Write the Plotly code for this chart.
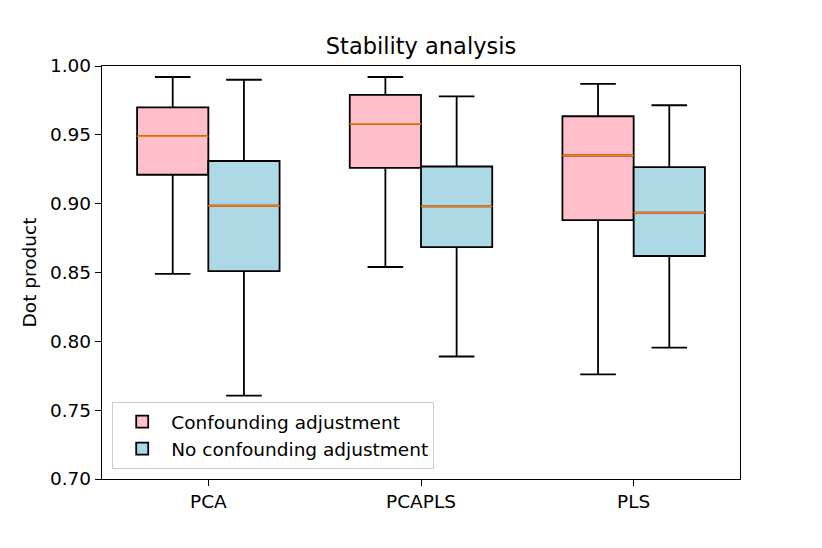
import plotly.graph_objects as go

# values
methods = ['PCA', 'PCAPLS', 'PLS']

conf_low = [0.849, 0.854, 0.776]
conf_q1 = [0.921, 0.926, 0.888]
conf_median = [0.949, 0.958, 0.935]
conf_q3 = [0.970, 0.979, 0.9635]
conf_high = [0.992, 0.992, 0.987]

noconf_low = [0.7605, 0.789, 0.7955]
noconf_q1 = [0.851, 0.8685, 0.862]
noconf_median = [0.8985, 0.898, 0.8935]
noconf_q3 = [0.931, 0.927, 0.9265]
noconf_high = [0.990, 0.978, 0.9715]

FONT = 'DejaVu Sans, Arial, sans-serif'


def add_group(fig, name, group, fill, low, q1, median, q3, high):
    """Box with black outline plus an orange median overlay in the same slot."""

    fig.add_trace(go.Box(
        x=methods,
        lowerfence=low,
        q1=q1,
        median=median,
        q3=q3,
        upperfence=high,
        name=name,
        offsetgroup=group,
        fillcolor=fill,
        line={'color': 'black', 'width': 1.8},
        whiskerwidth=0.5,
        boxpoints=False,
    ))
    fig.add_trace(go.Box(
        x=methods,
        lowerfence=median,
        q1=median,
        median=median,
        q3=median,
        upperfence=median,
        name=name + ' median',
        offsetgroup=group,
        fillcolor='rgba(0,0,0,0)',
        line={'color': '#ff7f0e', 'width': 1.8},
        whiskerwidth=0,
        boxpoints=False,
        showlegend=False,
        hoverinfo='skip',
    ))


fig = go.Figure()
add_group(fig, 'Confounding adjustment', 'conf', 'pink',
          conf_low, conf_q1, conf_median, conf_q3, conf_high)
add_group(fig, 'No confounding adjustment', 'noconf', 'lightblue',
          noconf_low, noconf_q1, noconf_median, noconf_q3, noconf_high)

axis_common = dict(
    showline=True,
    linecolor='black',
    linewidth=1.4,
    mirror=True,
    ticks='outside',
    ticklen=6,
    tickwidth=1.3,
    tickcolor='black',
    showgrid=False,
    zeroline=False,
    tickfont={'family': FONT, 'size': 18.5, 'color': 'black'},
)

fig.update_layout(
    width=822,
    height=548,
    paper_bgcolor='white',
    plot_bgcolor='white',
    margin={'l': 94, 'r': 90, 't': 58, 'b': 77},
    boxmode='group',
    boxgap=0.33,
    boxgroupgap=0,
    title={
        'text': 'Stability analysis',
        'x': (94 + 319) / 822,
        'xanchor': 'center',
        'y': 1 - 38 / 548,
        'yanchor': 'middle',
        'font': {'family': FONT, 'size': 22.5, 'color': 'black'},
    },
    legend={
        'x': 0.016,
        'y': 0.024,
        'xanchor': 'left',
        'yanchor': 'bottom',
        'itemwidth': 48,
        'bgcolor': 'rgba(255,255,255,0.8)',
        'bordercolor': '#cccccc',
        'borderwidth': 1,
        'font': {'family': FONT, 'size': 18.5, 'color': 'black'},
    },
    font={'family': FONT, 'color': 'black'},
)
fig.update_xaxes(**axis_common, type='category', range=[-0.5, 2.5])
fig.update_yaxes(
    **axis_common,
    range=[0.70, 1.00],
    dtick=0.05,
    tick0=0.70,
    tickformat='.2f',
    title={'text': 'Dot product', 'font': {'family': FONT, 'size': 18.5, 'color': 'black'}, 'standoff': 8},
)

fig.write_html('out.html')
